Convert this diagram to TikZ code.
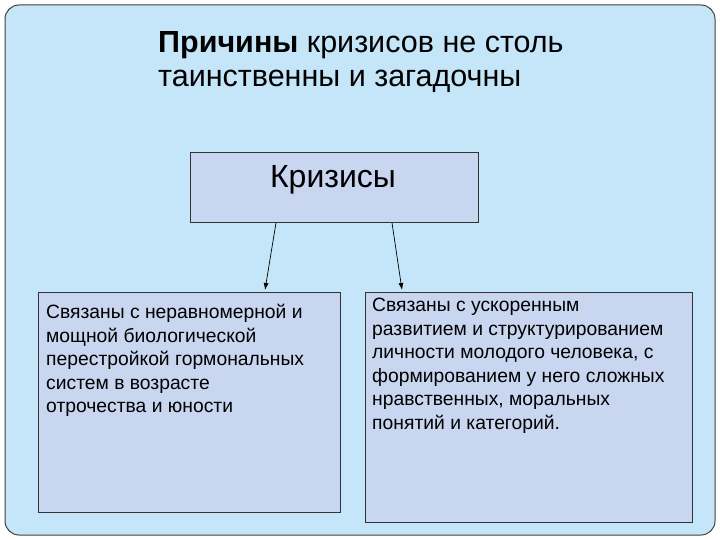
\documentclass[tikz,border=0pt]{standalone}
\usepackage{fontspec}
\setmainfont{Liberation Sans}
\usetikzlibrary{arrows.meta}
\begin{document}
\begin{tikzpicture}[x=1pt,y=-1pt,
  boxst/.style={draw=black!80,line width=0.8pt,fill=boxblue},
  txt/.style={anchor=north west,align=left,font=\fontsize{19.3}{23.5}\selectfont,inner sep=0pt},
  arr/.style={-{Latex[length=7pt,width=5pt]},line width=0.7pt}]
\definecolor{bgblue}{HTML}{C4E6F8}
\definecolor{boxblue}{HTML}{C9D6F0}
\useasboundingbox (0,0) rectangle (720,540);
\fill[white] (0,0) rectangle (720,540);
\draw[fill=bgblue,draw=black!75,line width=1pt,rounded corners=14pt] (5,5) rectangle (715,535);
\node[anchor=west,inner sep=0pt,font=\fontsize{30.5}{34}\selectfont] (t1) at (158,45) {\textbf{Причины} кризисов не столь};
\node[anchor=west,inner sep=0pt,font=\fontsize{30.5}{34}\selectfont] (t2) at (158,81) {таинственны и загадочны};
\node[boxst,minimum width=288pt,minimum height=70pt,anchor=north west,inner sep=0pt] (k) at (190,152) {};
\node[inner sep=0pt,font=\fontsize{32}{36}\selectfont] (kt) at (333,180) {Кризисы};
\node[boxst,minimum width=302pt,minimum height=220pt,anchor=north west,inner sep=0pt] (l) at (38,292) {};
\node[boxst,minimum width=327pt,minimum height=230pt,anchor=north west,inner sep=0pt] (r) at (365,292) {};
\node[txt] (lt) at (46,304) {Связаны с неравномерной и\\мощной биологической\\перестройкой гормональных\\систем в возрасте\\отрочества и юности};
\node[txt] (rt) at (372,298) {Связаны с ускоренным\\развитием и структурированием\\личности молодого человека, с\\формированием у него сложных\\нравственных, моральных\\понятий и категорий.};
\draw[arr] (k.south west)++(86,0) coordinate (a1) -- (265,290) coordinate (b1);
\draw[arr] (k.south west)++(202,0) coordinate (a2) -- (402,290) coordinate (b2);
\end{tikzpicture}
\end{document}
